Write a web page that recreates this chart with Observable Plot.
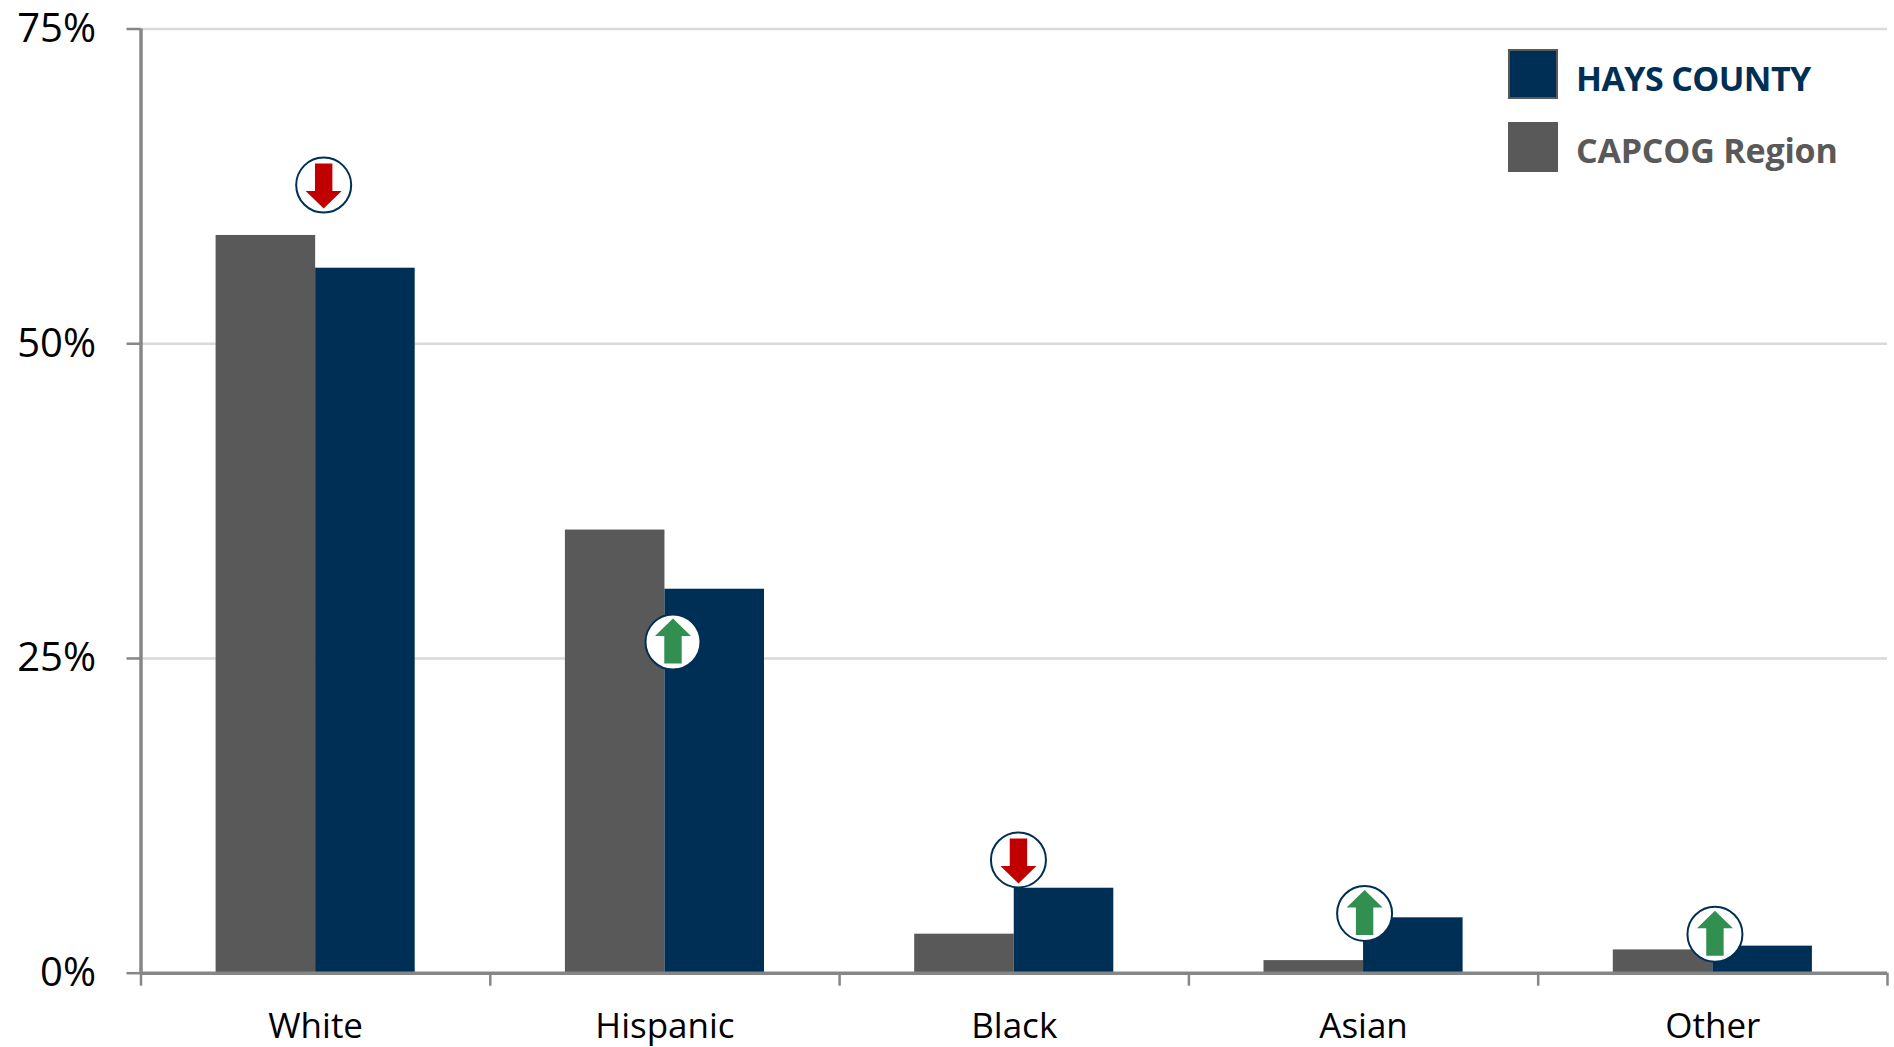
<!DOCTYPE html>
<html>
<head>
<meta charset="utf-8">
<script src="https://cdn.jsdelivr.net/npm/d3@7"></script>
<script src="https://cdn.jsdelivr.net/npm/@observablehq/plot@0.6"></script>
<style>
html,body{margin:0;padding:0;background:#fff;overflow:hidden}
#wrap{position:relative;width:1894px;height:1047px;font-family:"Open Sans",sans-serif}
.swatch{position:absolute;left:1508px;width:50px;height:50px;box-sizing:border-box}
.lab{position:absolute;left:1576px;font-weight:700;font-size:34px;line-height:40px;white-space:nowrap}
</style>
</head>
<body>
<div id="wrap"></div>
<script>
const categories = ["White", "Hispanic", "Black", "Asian", "Other"];
const capcogValues = [58.6, 35.2, 3.1, 1.0, 1.85];
const haysValues = [56.0, 30.5, 6.75, 4.4, 2.15];
const badgeValues = [62.6, 26.3, 9.0, 4.75, 3.1];
const badgeShift = [0.023, 0.023, 0.012, 0.003, 0.006];
const badgeDirection = ["down", "up", "down", "up", "up"];
const yTicks = [0, 25, 50, 75];

const halfGroup = 0.285;
const rows = categories.map((name, i) => ({
  name, i,
  capcog: capcogValues[i],
  hays: haysValues[i],
  badgeY: badgeValues[i],
  badgeX: i + 0.5 + badgeShift[i],
  dir: badgeDirection[i]
}));

function arrowSymbol(dir) {
  const s = dir === "up" ? -1 : 1;
  return {
    draw(ctx, size) {
      const r = Math.sqrt(size / Math.PI);
      const u = r / 28;
      const pts = [[-8.7, -21.5], [8.7, -21.5], [8.7, 6], [18, 6], [0, 23.5], [-18, 6], [-8.7, 6]];
      pts.forEach(([x, y], k) => {
        const px = x * u, py = y * u * s;
        if (k) ctx.lineTo(px, py); else ctx.moveTo(px, py);
      });
      ctx.closePath();
    }
  };
}

const plot = Plot.plot({
  width: 1894,
  height: 1047,
  marginLeft: 140.5,
  marginRight: 7,
  marginTop: 28.5,
  marginBottom: 74.3,
  style: {fontFamily: '"Open Sans", sans-serif', background: "#fff", color: "#000"},
  x: {domain: [0, 5], label: null},
  y: {domain: [0, 75], label: null},
  marks: [
    Plot.ruleY(yTicks.filter(d => d > 0), {stroke: "#d9d9d9", strokeWidth: 2.5}),
    Plot.rectY(rows, {x1: d => d.i + 0.5 - halfGroup, x2: d => d.i + 0.5, y: "capcog", fill: "#595959", inset: 0}),
    Plot.rectY(rows, {x1: d => d.i + 0.5, x2: d => d.i + 0.5 + halfGroup, y: "hays", fill: "#002f56", inset: 0}),
    Plot.axisY({ticks: yTicks, tickFormat: d => d + "%", tickSize: 14, tickPadding: 31, fontSize: 40, stroke: "#868686", strokeWidth: 2.5, strokeOpacity: 1, label: null}),
    Plot.axisX({ticks: [0, 1, 2, 3, 4, 5], tickFormat: () => "", tickSize: 13, stroke: "#868686", strokeWidth: 2.5, strokeOpacity: 1, label: null}),
    Plot.axisX({ticks: categories.map((c, i) => i + 0.5), tickFormat: d => categories[Math.floor(d)], tickSize: 0, tickPadding: 40, fontSize: 35, stroke: "none", label: null}),
    Plot.ruleX([0], {stroke: "#868686", strokeWidth: 3.5}),
    Plot.ruleY([0], {stroke: "#868686", strokeWidth: 3.5}),
    Plot.dot(rows, {x: "badgeX", y: "badgeY", r: 27.5, fill: "#fff", stroke: "#002f56", strokeWidth: 2}),
    Plot.dot(rows.filter(d => d.dir === "down"), {x: "badgeX", y: "badgeY", r: 28, symbol: arrowSymbol("down"), fill: "#c00000", stroke: "none"}),
    Plot.dot(rows.filter(d => d.dir === "up"), {x: "badgeX", y: "badgeY", r: 28, symbol: arrowSymbol("up"), fill: "#31904f", stroke: "none"})
  ]
});

const wrap = document.getElementById("wrap");
wrap.appendChild(plot);
const legend = [
  {label: "HAYS COUNTY", color: "#002f56", top: 49, textTop: 58, border: "2px solid #595959", spacing: "-0.6px"},
  {label: "CAPCOG Region", color: "#595959", top: 122, textTop: 130, border: "none", spacing: "-0.2px"}
];
legend.forEach(l => {
  const s = document.createElement("div");
  s.className = "swatch";
  s.style.top = l.top + "px";
  s.style.background = l.color;
  s.style.border = l.border;
  wrap.appendChild(s);
  const t = document.createElement("div");
  t.className = "lab";
  t.style.top = l.textTop + "px";
  t.style.color = l.color;
  t.style.letterSpacing = l.spacing;
  t.textContent = l.label;
  wrap.appendChild(t);
});
</script>
</body>
</html>
